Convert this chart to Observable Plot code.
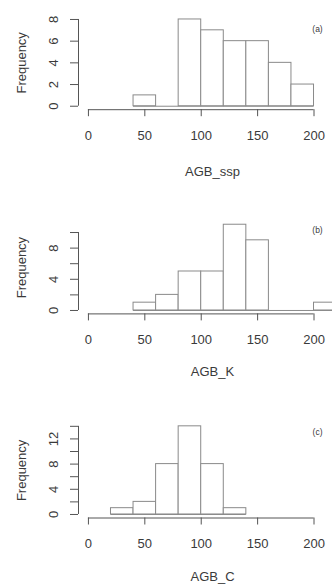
<!DOCTYPE html>
<html><head><meta charset="utf-8">
<script src="https://cdn.jsdelivr.net/npm/d3@7"></script>
<script src="https://cdn.jsdelivr.net/npm/@observablehq/plot@0.6"></script>
<style>
html,body{margin:0;padding:0;background:#fff;overflow:hidden;}
#wrap{width:332px;height:584px;overflow:hidden;position:relative;background:#fff;}
#wrap svg{display:block;max-width:none;}
</style></head><body><div id="wrap"></div>
<script>
const binWidth = 20;
const xTicks = [0, 50, 100, 150, 200];

const binsA = [40, 60, 80, 100, 120, 140, 160, 180];
const countsA = [1, 0, 8, 7, 6, 6, 4, 2];
const yTicksA = [0, 2, 4, 6, 8];

const binsB = [40, 60, 80, 100, 120, 140, 160, 180, 200];
const countsB = [1, 2, 5, 5, 11, 9, 0, 0, 1];
const yTicksB = [0, 2, 4, 6, 8, 10];

const binsC = [20, 40, 60, 80, 100, 120];
const countsC = [1, 2, 8, 14, 8, 1];
const yTicksC = [0, 2, 4, 6, 8, 10, 12, 14];

const xLabels = ["AGB_ssp", "AGB_K", "AGB_C"];
const tags = ["(a)", "(b)", "(c)"];

const panels = [
  {bins: binsA, counts: countsA, yTicks: yTicksA, step: 2, xLabel: xLabels[0], tag: tags[0],
   height: 190, yDomain: [-0.32, 8.32], marginTop: 15.5, marginBottom: 80.8, xLabelY: 171, tagY: 29},
  {bins: binsB, counts: countsB, yTicks: yTicksB, step: 4, xLabel: xLabels[1], tag: tags[1],
   height: 200, yDomain: [-0.44, 11.44], marginTop: 30.8, marginBottom: 76.6, xLabelY: 181.7, tagY: 39.3},
  {bins: binsC, counts: countsC, yTicks: yTicksC, step: 4, xLabel: xLabels[2], tag: tags[2],
   height: 194, yDomain: [-0.56, 14.56], marginTop: 32.3, marginBottom: 66.5, xLabelY: 186.7, tagY: 41.7}
];

const ML = 78;
const wrap = document.getElementById("wrap");

for (const p of panels) {
  const data = p.bins.map((b, i) => ({x1: b, x2: b + binWidth, count: p.counts[i]}));
  const first = p.bins[0], last = p.bins[p.bins.length - 1] + binWidth;
  const yMax = p.yTicks[p.yTicks.length - 1];
  const chart = Plot.plot({
    width: 346,
    height: p.height,
    marginLeft: ML,
    marginRight: 0,
    marginTop: p.marginTop,
    marginBottom: p.marginBottom,
    style: {fontFamily: "'Liberation Sans', Arial, sans-serif", fontSize: "13px", color: "#3a3a3a", background: "#fff", overflow: "visible"},
    x: {domain: [-8.8, 228.8]},
    y: {domain: p.yDomain},
    marks: [
      Plot.ruleY([0], {x1: first, x2: last, stroke: "#8a8a8a", strokeWidth: 1}),
      Plot.rectY(data, {x1: "x1", x2: "x2", y: "count", fill: "white", stroke: "#8a8a8a", strokeWidth: 1}),
      Plot.ruleY([p.yDomain[0]], {x1: xTicks[0], x2: xTicks[xTicks.length - 1], stroke: "#555"}),
      Plot.ruleX([-8.8], {y1: 0, y2: yMax, stroke: "#555"}),
      Plot.axisX({ticks: xTicks, tickSize: 7, tickPadding: 14, label: null, fontSize: 13, stroke: "#555"}),
      Plot.axisY({ticks: p.yTicks, tickSize: 8, label: null, stroke: "#555", tickFormat: () => ""}),
      Plot.axisY({ticks: p.yTicks, tickSize: 0, tickPadding: 25, label: null, fontSize: 13,
        tickFormat: d => (d % p.step === 0 ? String(d) : ""), rotate: -90, textAnchor: "middle", lineAnchor: "middle"}),
      Plot.text(["Frequency"], {text: d => d, frameAnchor: "left", dx: 21 - ML, rotate: -90, fontSize: 13, textAnchor: "middle", lineAnchor: "middle"}),
      Plot.text([p.xLabel], {text: d => d, frameAnchor: "top", dy: p.xLabelY - p.marginTop, fontSize: 13, textAnchor: "middle", lineAnchor: "middle"}),
      Plot.text([p.tag], {text: d => d, frameAnchor: "top-left", dx: 317 - ML, dy: p.tagY - p.marginTop, fontSize: 8.5, textAnchor: "middle", lineAnchor: "middle"})
    ]
  });
  wrap.appendChild(chart);
}
</script></body></html>
